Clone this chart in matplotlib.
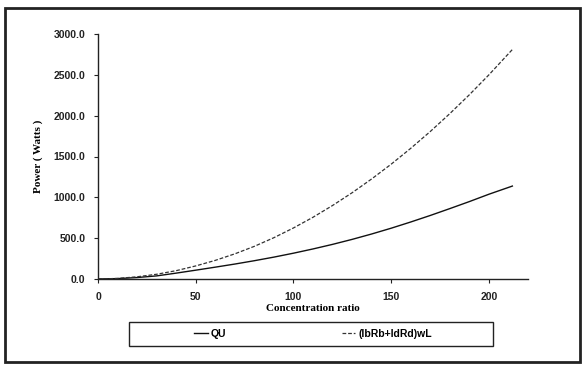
import matplotlib
matplotlib.use("Agg")
import matplotlib.pyplot as plt
from matplotlib.patches import Rectangle
from matplotlib.ticker import FormatStrFormatter

# Data
conc = [0, 10, 20, 30, 40, 50, 60, 70, 80, 90, 100, 110, 120, 130, 140,
        150, 160, 170, 180, 190, 200, 212]
qu = [0, 5, 18, 38, 72, 108, 145, 183, 224, 268, 316, 368, 424, 485, 551,
      622, 698, 778, 862, 948, 1038, 1138]
loss = [0, 7, 27, 58, 102, 160, 228, 308, 400, 506, 625, 756, 900, 1056, 1225,
        1406, 1600, 1806, 2025, 2256, 2500, 2810]
series_labels = ["QU", "(lbRb+IdRd)wL"]
xticks = [0, 50, 100, 150, 200]
yticks = [0, 500, 1000, 1500, 2000, 2500, 3000]

W, H = 584, 366
fig = plt.figure(figsize=(W / 100, H / 100), dpi=100)
fig.patch.set_facecolor("white")

# outer border
fig.patches.append(Rectangle((5 / W, 4 / H), 575 / W, 354 / H, transform=fig.transFigure,
                             fill=False, edgecolor="#222222", linewidth=2.0))

ax = fig.add_axes([98 / W, 1 - 279 / H, 430 / W, 245 / H])
l1, = ax.plot(conc, qu, color="#111111", linewidth=1.0, label=series_labels[0])
l2, = ax.plot(conc, loss, color="#333333", linewidth=0.9, linestyle=(0, (3, 1.5)),
              label=series_labels[1])

ax.set_xlim(0, 220)
ax.set_ylim(0, 3000)
ax.set_xticks(xticks)
ax.set_yticks(yticks)
ax.yaxis.set_major_formatter(FormatStrFormatter("%.1f"))
for s in ["top", "right"]:
    ax.spines[s].set_visible(False)
for s in ["left", "bottom"]:
    ax.spines[s].set_color("#222222")
    ax.spines[s].set_linewidth(1.0)
ax.tick_params(direction="out", length=3, width=0.8, colors="#222222", pad=6)
for lab in ax.get_xticklabels() + ax.get_yticklabels():
    lab.set_fontfamily("Liberation Sans")
    lab.set_fontweight("bold")
    lab.set_fontsize(7.5)

ax.set_xlabel("Concentration ratio", fontfamily="Liberation Serif", fontweight="bold",
              fontsize=8, labelpad=2)
ax.set_ylabel("Power ( Watts )", fontfamily="Liberation Serif", fontweight="bold",
              fontsize=8, labelpad=8)

# legend box
fig.patches.append(Rectangle((129 / W, 1 - 346 / H), 364 / W, 24 / H, transform=fig.transFigure,
                             fill=False, edgecolor="#222222", linewidth=1.0))
leg = fig.legend(handles=[l1, l2], loc="center", bbox_to_anchor=(313 / W, 1 - 334 / H),
                 ncol=2, frameon=False, handlelength=1.3, handletextpad=0.3,
                 columnspacing=11.1, prop={"family": "Liberation Sans", "weight": "bold", "size": 7.5})

fig.savefig("out.png", dpi=100)
